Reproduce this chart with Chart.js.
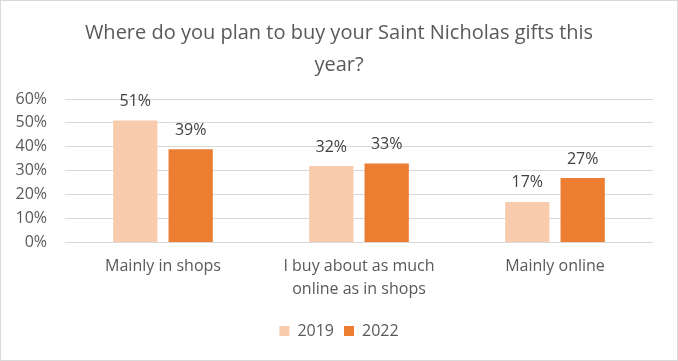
<!DOCTYPE html>
<html>
<head>
<meta charset="utf-8">
<script src="https://cdn.jsdelivr.net/npm/chart.js@4/dist/chart.umd.min.js"></script>
<style>
  html, body { margin: 0; padding: 0; background: #fff; }
  #wrap { width: 678px; height: 361px; position: relative; }
</style>
</head>
<body>
<div id="wrap"><canvas id="c" width="678" height="361"></canvas></div>
<script>
const titleLines = ['Where do you plan to buy your Saint Nicholas gifts this', 'year?'];
const categories = ['Mainly in shops', ['I buy about as much', 'online as in shops'], 'Mainly online'];
const seriesNames = ['2019', '2022'];
const values2019 = [51, 32, 17];
const values2022 = [39, 33, 27];
const yTicks = [0, 10, 20, 30, 40, 50, 60];

const FONT = "'Open Sans', 'Noto Sans', sans-serif";
const TEXT = '#595959';

const borderPlugin = {
  id: 'outerBorder',
  afterDraw(chart) {
    const ctx = chart.ctx;
    ctx.save();
    ctx.strokeStyle = '#D9D9D9';
    ctx.lineWidth = 1;
    ctx.strokeRect(0.5, 0.5, chart.width - 1, chart.height - 1);
    ctx.restore();
  }
};

const labelPlugin = {
  id: 'valueLabels',
  afterDatasetsDraw(chart) {
    const ctx = chart.ctx;
    ctx.save();
    ctx.font = "16px " + FONT;
    ctx.fillStyle = '#404040';
    ctx.textAlign = 'center';
    ctx.textBaseline = 'middle';
    chart.data.datasets.forEach((ds, di) => {
      const meta = chart.getDatasetMeta(di);
      meta.data.forEach((bar, i) => {
        ctx.fillText(ds.data[i] + '%', bar.x, bar.y - 19);
      });
    });
    ctx.restore();
  }
};

new Chart(document.getElementById('c'), {
  type: 'bar',
  data: {
    labels: categories,
    datasets: [
      { label: seriesNames[0], data: values2019, backgroundColor: '#F8CBAD' },
      { label: seriesNames[1], data: values2022, backgroundColor: '#ED7D31' }
    ]
  },
  options: {
    responsive: false,
    animation: false,
    devicePixelRatio: 1,
    layout: { padding: { left: 0, right: 0, top: 0, bottom: 12 } },
    datasets: { bar: { categoryPercentage: 0.565, barPercentage: 0.8 } },
    plugins: {
      title: {
        display: true,
        text: titleLines,
        color: TEXT,
        font: { family: FONT, size: 20, weight: 'normal', lineHeight: 1.6 },
        padding: { top: 17, bottom: 18 }
      },
      legend: {
        position: 'bottom',
        labels: {
          color: TEXT,
          font: { family: FONT, size: 16 },
          boxWidth: 10, boxHeight: 10, padding: 10
        }
      },
      tooltip: { enabled: false }
    },
    scales: {
      x: {
        grid: { display: false, drawTicks: false },
        border: { display: false },
        ticks: { color: TEXT, font: { family: FONT, size: 16, lineHeight: 1.45 }, padding: 12, maxRotation: 0, autoSkip: false }
      },
      y: {
        min: 0, max: 60,
        afterBuildTicks(scale) { scale.ticks = yTicks.map(v => ({ value: v })); },
        afterFit(scale) { scale.width = 65; },
        grid: { color: '#D9D9D9', lineWidth: 1, drawTicks: false },
        border: { display: false },
        ticks: { color: TEXT, font: { family: FONT, size: 16 }, padding: 18, callback: v => v + '%' }
      },
      yRight: {
        position: 'right',
        display: true,
        afterFit(scale) { scale.width = 25; },
        grid: { display: false, drawTicks: false },
        border: { display: false },
        ticks: { display: false }
      }
    }
  },
  plugins: [borderPlugin, labelPlugin]
});
</script>
</body>
</html>
